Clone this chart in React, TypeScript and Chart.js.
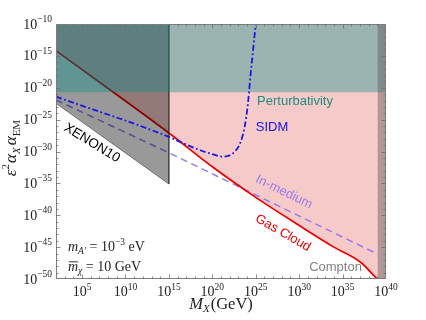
import React, { useEffect, useRef } from "react";
import { Chart, registerables } from "chart.js";

Chart.register(...registerables);

// axis extents (log10 values)
const X_MIN = 2;
const X_MAX = 40;
const Y_MIN = -50;
const Y_MAX = -10;

// tick labels (log10 exponents)
const xTickExponents = [5, 10, 15, 20, 25, 30, 35, 40];
const yTickExponents = [-50, -45, -40, -35, -30, -25, -20, -15, -10];

// Gas Cloud bound (log10 M_X, log10 eps^2 alpha_X alpha_EM)
const gasCloudX = [2, 15, 20, 25, 30, 34, 37, 39];
const gasCloudY = [-14.2, -27.1, -32.4, -37.2, -41.6, -45.0, -47.3, -50];

// SIDM bound
const sidmX = [2, 15, 16.3, 18.6, 20.2, 21.1, 22.0, 22.6, 23.2, 23.7, 24.1, 24.4, 24.7, 25.0];
const sidmY = [-21.4, -27.7, -28.5, -29.8, -30.5, -30.8, -30.6, -30.0, -28.7, -26.3, -22.5, -18.0, -14.0, -10.0];

// In-medium bound
const inMediumX = [2, 15, 39.05];
const inMediumY = [-21.9, -30.2, -46.1];

// XENON10 excluded polygon
const xenonX = [2, 15, 15, 2];
const xenonY = [-10, -10, -35.1, -22.45];

// Perturbativity: excluded above this value
const perturbativityBottom = -20.72;

// Compton: excluded above this mass
const comptonStart = 39.05;

const pts = (xs: number[], ys: number[]) => xs.map((x, i) => ({ x, y: ys[i] }));

const SERIF = '"Liberation Serif", "DejaVu Serif", serif';
const SANS = '"Liberation Sans", Arial, sans-serif';

type Seg = { t: string; size: number; italic?: boolean; dy?: number; dx?: number; bar?: boolean };

function richWidth(ctx: CanvasRenderingContext2D, segs: Seg[]) {
  let w = 0;
  for (const s of segs) {
    ctx.font = `${s.italic ? "italic " : ""}${s.size}px ${SERIF}`;
    w += ctx.measureText(s.t).width + (s.dx || 0);
  }
  return w;
}

function drawRich(ctx: CanvasRenderingContext2D, segs: Seg[], x: number, y: number) {
  let cx = x;
  for (const s of segs) {
    ctx.font = `${s.italic ? "italic " : ""}${s.size}px ${SERIF}`;
    cx += s.dx || 0;
    ctx.fillText(s.t, cx, y + (s.dy || 0));
    const w = ctx.measureText(s.t).width;
    if (s.bar) {
      ctx.save();
      ctx.lineWidth = 0.9;
      ctx.strokeStyle = ctx.fillStyle as string;
      ctx.beginPath();
      ctx.moveTo(cx + 1, y - s.size * 0.62);
      ctx.lineTo(cx + w, y - s.size * 0.62);
      ctx.stroke();
      ctx.restore();
    }
    cx += w;
  }
}

const supExp = (e: number) => (e < 0 ? "\u2212" + Math.abs(e) : String(e));

const decor = {
  id: "decor",
  afterDraw(chart: any) {
    const { ctx, chartArea: a, scales } = chart;
    const xs = scales.x;
    const ys = scales.y;
    ctx.save();
    ctx.textBaseline = "alphabetic";

    // frame
    ctx.strokeStyle = "rgb(125,125,125)";
    ctx.lineWidth = 1;
    ctx.strokeRect(a.left + 0.5, a.top + 0.5, a.right - a.left - 1, a.bottom - a.top - 1);

    // ticks
    ctx.strokeStyle = "rgb(110,110,110)";
    ctx.lineWidth = 0.8;
    ctx.beginPath();
    for (let e = X_MIN + 1; e < X_MAX; e++) {
      const px = Math.round(xs.getPixelForValue(e)) + 0.5;
      const len = e % 5 === 0 ? 4.5 : 2.5;
      ctx.moveTo(px, a.bottom);
      ctx.lineTo(px, a.bottom - len);
      ctx.moveTo(px, a.top);
      ctx.lineTo(px, a.top + len);
    }
    for (let e = Y_MIN + 1; e < Y_MAX; e++) {
      const py = Math.round(ys.getPixelForValue(e)) + 0.5;
      const len = e % 5 === 0 ? 4.5 : 2.5;
      ctx.moveTo(a.left, py);
      ctx.lineTo(a.left + len, py);
      ctx.moveTo(a.right, py);
      ctx.lineTo(a.right - len, py);
    }
    ctx.stroke();

    // tick labels
    ctx.fillStyle = "#222";
    ctx.textAlign = "left";
    for (const e of xTickExponents) {
      const segs: Seg[] = [
        { t: "10", size: 14 },
        { t: supExp(e), size: 9.5, dy: -6.5 },
      ];
      const w = richWidth(ctx, segs);
      drawRich(ctx, segs, xs.getPixelForValue(e) - w / 2, a.bottom + 17);
    }
    for (const e of yTickExponents) {
      const segs: Seg[] = [
        { t: "10", size: 14 },
        { t: supExp(e), size: 9.5, dy: -6.5 },
      ];
      const w = richWidth(ctx, segs);
      drawRich(ctx, segs, a.left - 4 - w, ys.getPixelForValue(e) + 4.5);
    }

    // x title
    {
      const segs: Seg[] = [
        { t: "M", size: 16.5, italic: true },
        { t: "X", size: 11, italic: true, dy: 3 },
        { t: "(GeV)", size: 16.5, dx: 1 },
      ];
      const w = richWidth(ctx, segs);
      drawRich(ctx, segs, (a.left + a.right) / 2 - w / 2, 309);
    }
    // y title
    {
      const segs: Seg[] = [
        { t: "\u03B5", size: 17, italic: true },
        { t: "2", size: 11, dy: -7 },
        { t: "\u03B1", size: 17, italic: true, dx: 1 },
        { t: "X", size: 11, italic: true, dy: 3.5 },
        { t: "\u03B1", size: 17, italic: true, dx: 2 },
        { t: "EM", size: 11, dy: 3.5 },
      ];
      const w = richWidth(ctx, segs);
      ctx.save();
      ctx.translate(16, 148);
      ctx.rotate(-Math.PI / 2);
      drawRich(ctx, segs, -w / 2, 0);
      ctx.restore();
    }

    // parameter box
    drawRich(
      ctx,
      [
        { t: "m", size: 14, italic: true },
        { t: "A\u2032", size: 9.5, italic: true, dy: 3 },
        { t: " = 10", size: 14 },
        { t: "\u22123", size: 9.5, dy: -6 },
        { t: " eV", size: 14 },
      ],
      68,
      251
    );
    drawRich(
      ctx,
      [
        { t: "m", size: 14, italic: true, bar: true },
        { t: "\u03C7", size: 9.5, italic: true, dy: 3 },
        { t: " = 10 GeV", size: 14 },
      ],
      68,
      270.5
    );

    // region / curve labels
    const label = (t: string, x: number, y: number, color: string, angleDeg: number, size = 13) => {
      ctx.save();
      ctx.translate(x, y);
      ctx.rotate((angleDeg * Math.PI) / 180);
      ctx.font = `${size}px ${SANS}`;
      ctx.fillStyle = color;
      ctx.textAlign = "center";
      ctx.textBaseline = "middle";
      ctx.fillText(t, 0, 0);
      ctx.restore();
    };
    label("Perturbativity", 295, 101.5, "rgb(30,140,130)", 0);
    label("SIDM", 272, 127, "rgb(20,20,230)", 0);
    label("XENON10", 92, 143, "#000", 31.5, 13.5);
    label("In-medium", 284, 192, "rgb(150,125,235)", 26);
    label("Gas Cloud", 283, 233, "rgb(235,0,0)", 30);
    label("Compton", 335.5, 267.5, "rgb(130,130,130)", 0);

    ctx.restore();
  },
};

export default function App() {
  const ref = useRef<HTMLCanvasElement | null>(null);
  useEffect(() => {
    document.body.style.margin = "0";
    const canvas = ref.current!;
    const chart = new Chart(canvas, {
      type: "line",
      data: {
        datasets: [
          {
            label: "Gas Cloud region",
            data: [...pts(gasCloudX, gasCloudY), { x: X_MAX, y: Y_MIN }],
            fill: "end",
            backgroundColor: "rgba(240,150,150,0.5)",
            borderWidth: 0,
            borderColor: "rgba(0,0,0,0)",
            cubicInterpolationMode: "monotone",
            order: 10,
          },
          {
            label: "In-medium",
            data: pts(inMediumX, inMediumY),
            borderColor: "rgb(150,125,235)",
            borderDash: [7, 4.5],
            borderWidth: 1.5,
            fill: false,
            order: 9,
          },
          {
            label: "Gas Cloud",
            data: pts(gasCloudX, gasCloudY),
            borderColor: "rgb(235,0,0)",
            borderWidth: 1.7,
            cubicInterpolationMode: "monotone",
            fill: false,
            order: 8,
          },
          {
            label: "XENON10",
            data: pts(xenonX, xenonY),
            fill: "shape",
            backgroundColor: "rgba(0,0,0,0.4)",
            borderColor: "rgba(40,40,40,0.7)",
            borderWidth: 0.8,
            order: 7,
          },
          {
            label: "Perturbativity",
            data: [
              { x: X_MIN, y: Y_MAX },
              { x: X_MAX, y: Y_MAX },
              { x: X_MAX, y: perturbativityBottom },
              { x: X_MIN, y: perturbativityBottom },
            ],
            fill: "shape",
            backgroundColor: "rgba(0,140,135,0.37)",
            borderWidth: 0,
            borderColor: "rgba(0,0,0,0)",
            order: 6,
          },
          {
            label: "SIDM",
            data: pts(sidmX, sidmY),
            borderColor: "rgb(25,25,225)",
            borderDash: [6, 2.5, 1.8, 2.5],
            borderWidth: 1.8,
            cubicInterpolationMode: "monotone",
            fill: false,
            order: 5,
          },
          {
            label: "Compton",
            data: [
              { x: comptonStart, y: Y_MAX },
              { x: X_MAX, y: Y_MAX },
              { x: X_MAX, y: Y_MIN },
              { x: comptonStart, y: Y_MIN },
            ],
            fill: "shape",
            backgroundColor: "rgba(90,90,90,0.45)",
            borderWidth: 0,
            borderColor: "rgba(0,0,0,0)",
            order: 4,
          },
        ],
      },
      options: {
        animation: false,
        responsive: false,
        devicePixelRatio: 1,
        parsing: true,
        layout: { padding: { left: 56, top: 24, right: 40, bottom: 41 } },
        elements: { point: { radius: 0, hoverRadius: 0 } },
        scales: {
          x: { type: "linear", min: X_MIN, max: X_MAX, display: false },
          y: { type: "linear", min: Y_MIN, max: Y_MAX, display: false },
        },
        plugins: { legend: { display: false }, tooltip: { enabled: false } },
      },
      plugins: [decor],
    } as any);
    return () => chart.destroy();
  }, []);
  return (
    <div style={{ position: "absolute", left: 0, top: 0, width: 426, height: 320, background: "#fff" }}>
      <canvas ref={ref} width={426} height={320} style={{ width: 426, height: 320, display: "block" }} />
    </div>
  );
}
